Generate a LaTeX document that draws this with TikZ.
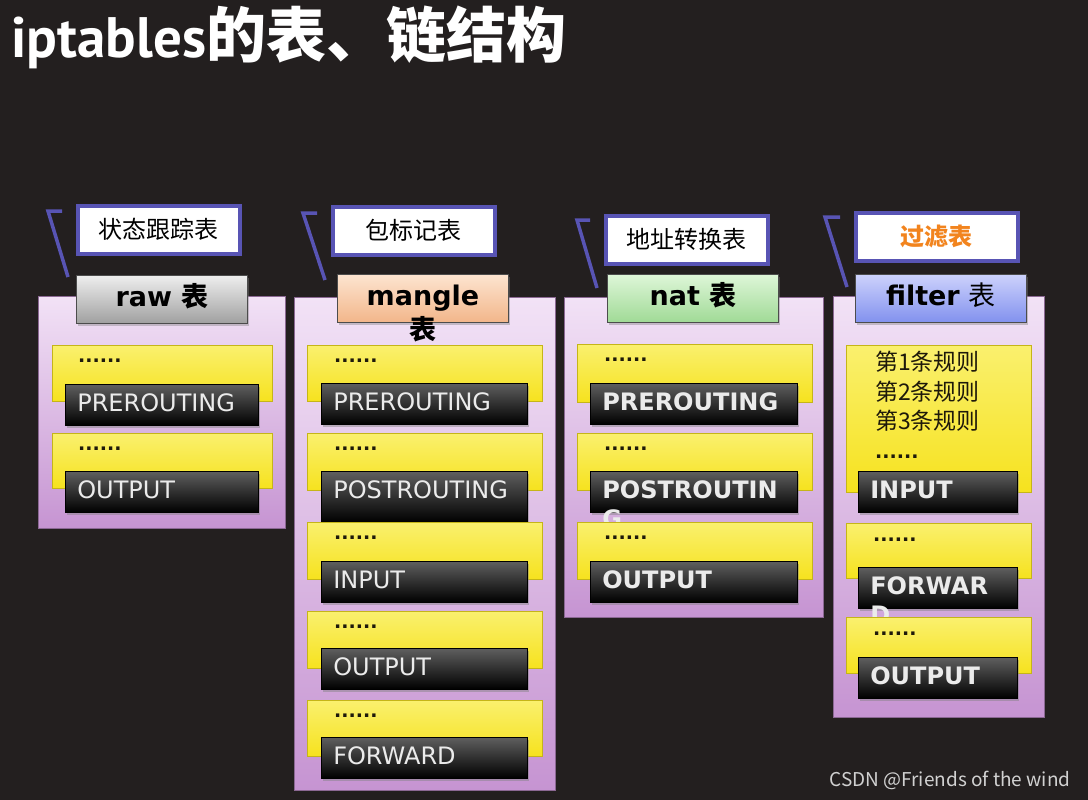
\documentclass[tikz,border=0pt]{standalone}
\usepackage{fontspec}
\setmainfont{DejaVu Sans}
\newfontfamily\cjk{Noto Sans CJK SC}
\newfontfamily\ptsans{PT Sans}
\usepackage{tikz}
\usetikzlibrary{positioning,shadows}
\definecolor{bgdark}{RGB}{35,31,31}
\definecolor{noteblue}{RGB}{88,84,180}
\definecolor{grayTop}{RGB}{238,238,238}
\definecolor{grayBot}{RGB}{160,160,160}
\definecolor{peachTop}{RGB}{253,228,208}
\definecolor{peachBot}{RGB}{242,182,138}
\definecolor{greenTop}{RGB}{222,246,216}
\definecolor{greenBot}{RGB}{160,218,150}
\definecolor{blueTop}{RGB}{205,210,252}
\definecolor{blueBot}{RGB}{130,145,238}
\definecolor{panelTop}{RGB}{242,226,246}
\definecolor{panelBot}{RGB}{198,148,210}
\definecolor{yellowTop}{RGB}{250,240,110}
\definecolor{yellowBot}{RGB}{246,226,30}
\definecolor{chainTop}{RGB}{95,95,95}
\definecolor{chainBot}{RGB}{0,0,0}
\definecolor{orangeText}{RGB}{242,132,30}
\definecolor{ruleText}{RGB}{30,25,10}
\tikzset{
  title/.style  ={anchor=west, text=white, font=\cjk\bfseries\fontsize{60}{66}\selectfont},
  wmark/.style  ={anchor=east, text=black!18, font=\cjk\fontsize{19}{22}\selectfont},
  noteline/.style={draw=noteblue, line width=3.5pt},
  note/.style   ={anchor=north west, draw=noteblue, line width=3.5pt, fill=white, minimum width=162pt,
                  minimum height=48pt, font=\cjk\fontsize{24}{28}\selectfont},
  panel/.style  ={anchor=north west, draw=panelBot!70!black, line width=.6pt, top color=panelTop,
                  bottom color=panelBot, inner sep=0pt},
  tabbox/.style ={anchor=north west, draw=black!70, line width=.8pt, minimum width=171pt, minimum height=48pt,
                  align=center, text width=150pt, text height=20pt, text depth=6pt,
                  font=\fontsize{27}{34}\selectfont\bfseries,
                  drop shadow={shadow xshift=2pt, shadow yshift=-3pt, opacity=.4}},
  rulebox/.style={anchor=north west, draw=yellowBot!80!black, line width=.5pt, top color=yellowTop,
                  bottom color=yellowBot, inner sep=0pt},
  dots/.style   ={inner sep=0pt, text=ruleText, font=\fontsize{19}{22}\selectfont\bfseries},
  rtext/.style  ={inner sep=0pt, align=left, text=ruleText, font=\cjk\fontsize{23}{29.5}\selectfont},
  chain/.style  ={anchor=north west, draw=black, line width=.6pt, top color=chainTop, bottom color=chainBot,
                  text=white!92!black, align=left, inner xsep=12pt, text height=17pt, text depth=4pt,
                  minimum height=41pt, font=\fontsize{24}{29}\selectfont,
                  drop shadow={shadow xshift=2pt, shadow yshift=-3pt, opacity=.45}},
  chainb/.style ={chain, font=\fontsize{24}{29}\selectfont\bfseries}
}
\begin{document}
\begin{tikzpicture}[x=1pt,y=-1pt]
\fill[bgdark] (0,0) rectangle (1088,800);
\node[title] (title) at (8,37) {{\ptsans\bfseries\fontsize{57}{64}\selectfont iptables}的表、链结构};

\coordinate (rawA) at (62,211);
\coordinate (rawB) at (48,211);
\coordinate (rawC) at (68,277);
\draw[noteline] (rawA) -- (rawB) -- (rawC);
\node[note] (rawNote) at (76,204) {状态跟踪表};
\node[panel, minimum width=247pt, minimum height=232pt] (rawPanel) at (38,296) {};
\node[tabbox, top color=grayTop, bottom color=grayBot] (rawTab) at (76,275) {raw {\cjk 表}};
\node[rulebox, minimum width=220pt, minimum height=56pt] (rawY1) at (52,345) {};
\node[dots, below right=14pt and 26pt of rawY1.north west] (rawD1) {......};
\node[chain, text width=169pt] (rawK1) at (65,384) {PREROUTING};
\node[rulebox, minimum width=220pt, minimum height=55pt] (rawY2) at (52,433) {};
\node[dots, below right=14pt and 26pt of rawY2.north west] (rawD2) {......};
\node[chain, text width=169pt] (rawK2) at (65,471) {OUTPUT};

\coordinate (mglA) at (317,213);
\coordinate (mglB) at (303,213);
\coordinate (mglC) at (325,280);
\draw[noteline] (mglA) -- (mglB) -- (mglC);
\node[note] (mglNote) at (331,205) {包标记表};
\node[panel, minimum width=261pt, minimum height=493pt] (mglPanel) at (294,297) {};
\node[tabbox, top color=peachTop, bottom color=peachBot] (mglTab) at (337,274) {mangle\\{\cjk 表}};
\node[rulebox, minimum width=235pt, minimum height=56pt] (mglY1) at (307,345) {};
\node[dots, below right=14pt and 27pt of mglY1.north west] (mglD1) {......};
\node[chain, text width=182pt] (mglK1) at (321,383) {PREROUTING};
\node[rulebox, minimum width=235pt, minimum height=57pt] (mglY2) at (307,433) {};
\node[dots, below right=14pt and 27pt of mglY2.north west] (mglD2) {......};
\node[chain, text width=182pt, minimum height=51pt, text depth=14pt] (mglK2) at (321,471) {POSTROUTING};
\node[rulebox, minimum width=235pt, minimum height=57pt] (mglY3) at (307,522) {};
\node[dots, below right=14pt and 27pt of mglY3.north west] (mglD3) {......};
\node[chain, text width=182pt] (mglK3) at (321,561) {INPUT};
\node[rulebox, minimum width=235pt, minimum height=57pt] (mglY4) at (307,611) {};
\node[dots, below right=14pt and 27pt of mglY4.north west] (mglD4) {......};
\node[chain, text width=182pt] (mglK4) at (321,648) {OUTPUT};
\node[rulebox, minimum width=235pt, minimum height=56pt] (mglY5) at (307,700) {};
\node[dots, below right=14pt and 27pt of mglY5.north west] (mglD5) {......};
\node[chain, text width=182pt] (mglK5) at (321,737) {FORWARD};

\coordinate (natA) at (590,220);
\coordinate (natB) at (577,220);
\coordinate (natC) at (597,288);
\draw[noteline] (natA) -- (natB) -- (natC);
\node[note] (natNote) at (604,214) {地址转换表};
\node[panel, minimum width=259pt, minimum height=320pt] (natPanel) at (564,297) {};
\node[tabbox, top color=greenTop, bottom color=greenBot] (natTab) at (607,274) {nat {\cjk 表}};
\node[rulebox, minimum width=235pt, minimum height=58pt] (natY1) at (577,344) {};
\node[dots, below right=14pt and 27pt of natY1.north west] (natD1) {......};
\node[chainb, text width=183pt] (natK1) at (590,383) {PREROUTING};
\node[rulebox, minimum width=235pt, minimum height=57pt] (natY2) at (577,433) {};
\node[dots, below right=14pt and 27pt of natY2.north west] (natD2) {......};
\node[chainb, text width=183pt] (natK2) at (590,471) {POSTROUTIN\\G};
\node[rulebox, minimum width=235pt, minimum height=57pt] (natY3) at (577,522) {};
\node[dots, below right=14pt and 27pt of natY3.north west] (natD3) {......};
\node[chainb, text width=183pt] (natK3) at (590,561) {OUTPUT};

\coordinate (filA) at (840,217);
\coordinate (filB) at (825,217);
\coordinate (filC) at (847,287);
\draw[noteline] (filA) -- (filB) -- (filC);
\node[note, font=\cjk\bfseries\fontsize{24}{28}\selectfont, text=orangeText] (filNote) at (854,211) {过滤表};
\node[panel, minimum width=211pt, minimum height=421pt] (filPanel) at (833,296) {};
\node[tabbox, top color=blueTop, bottom color=blueBot] (filTab) at (855,274) {filter {\cjk\mdseries 表}};
\node[rulebox, minimum width=185pt, minimum height=147pt] (filY1) at (846,345) {};
\node[rtext, below right=6pt and 29pt of filY1.north west] (filR) {第1条规则\\第2条规则\\第3条规则};
\node[dots, below right=110pt and 29pt of filY1.north west] (filD1) {......};
\node[chainb, text width=135pt] (filK1) at (858,471) {INPUT};
\node[rulebox, minimum width=185pt, minimum height=55pt] (filY2) at (846,523) {};
\node[dots, below right=15pt and 27pt of filY2.north west] (filD2) {......};
\node[chainb, text width=135pt] (filK2) at (858,567) {FORWAR\\D};
\node[rulebox, minimum width=185pt, minimum height=56pt] (filY3) at (846,617) {};
\node[dots, below right=15pt and 27pt of filY3.north west] (filD3) {......};
\node[chainb, text width=135pt] (filK3) at (858,657) {OUTPUT};

\node[wmark] (wm) at (1074,780) {CSDN @Friends of the wind};
\end{tikzpicture}
\end{document}
